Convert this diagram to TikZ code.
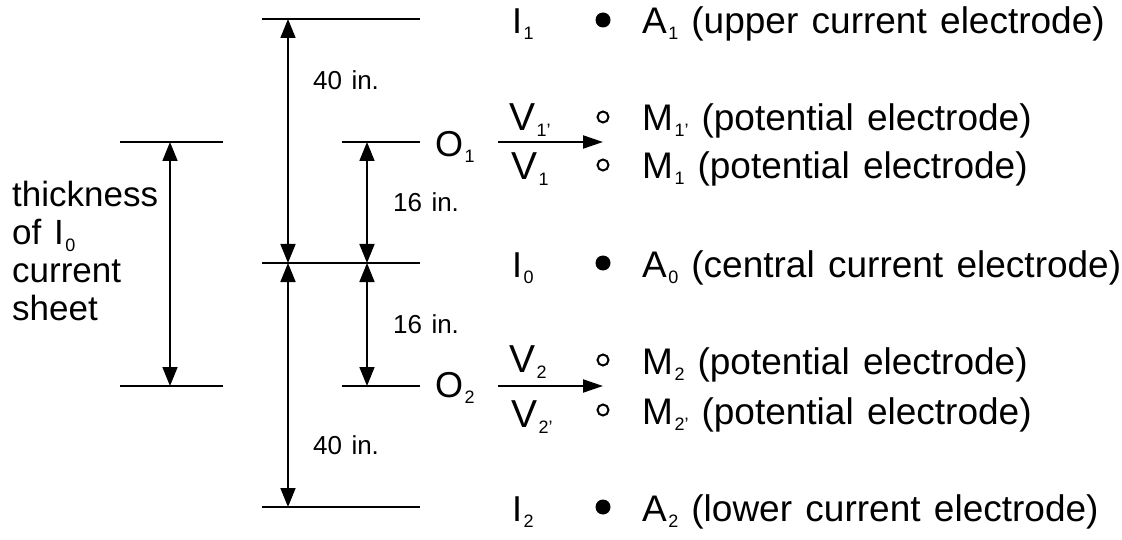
\documentclass[tikz,border=0pt]{standalone}
\usepackage{fontspec}
\setmainfont{Liberation Sans}[WordSpace=1.3]
\usetikzlibrary{arrows.meta}
\newcommand\sbs[1]{\kern1.5pt\raisebox{-6pt}{\fontsize{18}{18}\selectfont #1}}
\begin{document}
\begin{tikzpicture}[x=1pt,y=-1pt,
  rule/.style={line width=1.4pt},
  dim/.style={line width=1.7pt, {Triangle[length=19pt,width=15pt]}-{Triangle[length=19pt,width=15pt]}},
  varrow/.style={line width=2pt,-{Triangle[length=20pt,width=13pt]}},
  lbl/.style={anchor=base west, inner sep=0pt, font=\fontsize{36}{36}\selectfont},
  rlbl/.style={anchor=base west, inner sep=0pt, font=\fontsize{37}{37}\selectfont},
  side/.style={anchor=base west, inner sep=0pt, font=\fontsize{35}{35}\selectfont},
  vlbl/.style={anchor=base west, inner sep=0pt, font=\fontsize{39}{39}\selectfont},
  dimlbl/.style={anchor=base west, inner sep=0pt, font=\fontsize{26}{26}\selectfont},
  full/.style={circle, fill, inner sep=0pt, minimum size=15pt},
  open/.style={circle, draw, line width=2pt, inner sep=0pt, minimum size=11pt},
]
\useasboundingbox (0,0) rectangle (1122,540);

% horizontal reference lines
\coordinate (tL) at (262,19);  \coordinate (tR) at (420,19);
\coordinate (cL) at (262,263); \coordinate (cR) at (420,263);
\coordinate (bL) at (262,507); \coordinate (bR) at (420,507);
\coordinate (o1L) at (342,142); \coordinate (o1R) at (420,142);
\coordinate (o2L) at (342,386); \coordinate (o2R) at (420,386);
\coordinate (k1L) at (120,142); \coordinate (k1R) at (223,142);
\coordinate (k2L) at (120,386); \coordinate (k2R) at (223,386);
\draw[rule] (tL) -- (tR);
\draw[rule] (cL) -- (cR);
\draw[rule] (bL) -- (bR);
\draw[rule] (o1L) -- (o1R);
\draw[rule] (o2L) -- (o2R);
\draw[rule] (k1L) -- (k1R);
\draw[rule] (k2L) -- (k2R);

% dimension arrows
\coordinate (a40t) at (288,19);  \coordinate (a40c) at (288,263); \coordinate (a40b) at (288,507);
\coordinate (a16t) at (367,142); \coordinate (a16c) at (367,263); \coordinate (a16b) at (367,386);
\coordinate (th1) at (170,142);  \coordinate (th2) at (170,386);
\draw[dim] (a40t) -- (a40c);
\draw[dim] (a40c) -- (a40b);
\draw[dim] (a16t) -- (a16c);
\draw[dim] (a16c) -- (a16b);
\draw[dim] (th1) -- (th2);

\node[dimlbl] (l40a) at (313,90) {40 in.};
\node[dimlbl] (l16a) at (393,212) {16 in.};
\node[dimlbl] (l16b) at (393,333) {16 in.};
\node[dimlbl] (l40b) at (313,454) {40 in.};

% left text
\node[side] (s1) at (12,207) {thickness};
\node[side] (s2) at (12,245) {of I\sbs{0}};
\node[side] (s3) at (12,283) {current};
\node[side] (s4) at (12,320) {sheet};

% O labels
\node[lbl] (O1) at (435,157) {O\sbs{1}};
\node[lbl] (O2) at (435,397) {O\sbs{2}};

% V arrows
\coordinate (v1s) at (498,142); \coordinate (v1e) at (603,142);
\coordinate (v2s) at (498,386); \coordinate (v2e) at (603,386);
\draw[varrow] (v1s) -- (v1e);
\draw[varrow] (v2s) -- (v2e);
\node[vlbl] (V1p) at (509,131) {V\sbs{1'}};
\node[vlbl] (V1)  at (511,180) {V\sbs{1}};
\node[vlbl] (V2)  at (509,372) {V\sbs{2}};
\node[vlbl] (V2p) at (511,427) {V\sbs{2'}};

% right column
\node[lbl] (I1) at (512,34) {I\sbs{1}};
\node[lbl] (I0) at (512,277) {I\sbs{0}};
\node[lbl] (I2) at (512,521) {I\sbs{2}};

\node[full] (A1d) at (603,20) {};
\node[open] (M1pd) at (603,117) {};
\node[open] (M1d) at (603,165) {};
\node[full] (A0d) at (603,263) {};
\node[open] (M2d) at (603,360) {};
\node[open] (M2pd) at (603,410) {};
\node[full] (A2d) at (603,507) {};

\node[rlbl] (A1t) at (642,34) {A\sbs{1}\hspace{13pt}(upper current electrode)};
\node[rlbl] (M1pt) at (642,131) {M\sbs{1'}\hspace{13pt}(potential electrode)};
\node[rlbl] (M1t) at (642,179) {M\sbs{1}\hspace{13pt}(potential electrode)};
\node[rlbl] (A0t) at (642,277) {A\sbs{0}\hspace{13pt}(central current electrode)};
\node[rlbl] (M2t) at (642,374) {M\sbs{2}\hspace{13pt}(potential electrode)};
\node[rlbl] (M2pt) at (642,424) {M\sbs{2'}\hspace{13pt}(potential electrode)};
\node[rlbl] (A2t) at (642,521) {A\sbs{2}\hspace{13pt}(lower current electrode)};
\end{tikzpicture}
\end{document}
